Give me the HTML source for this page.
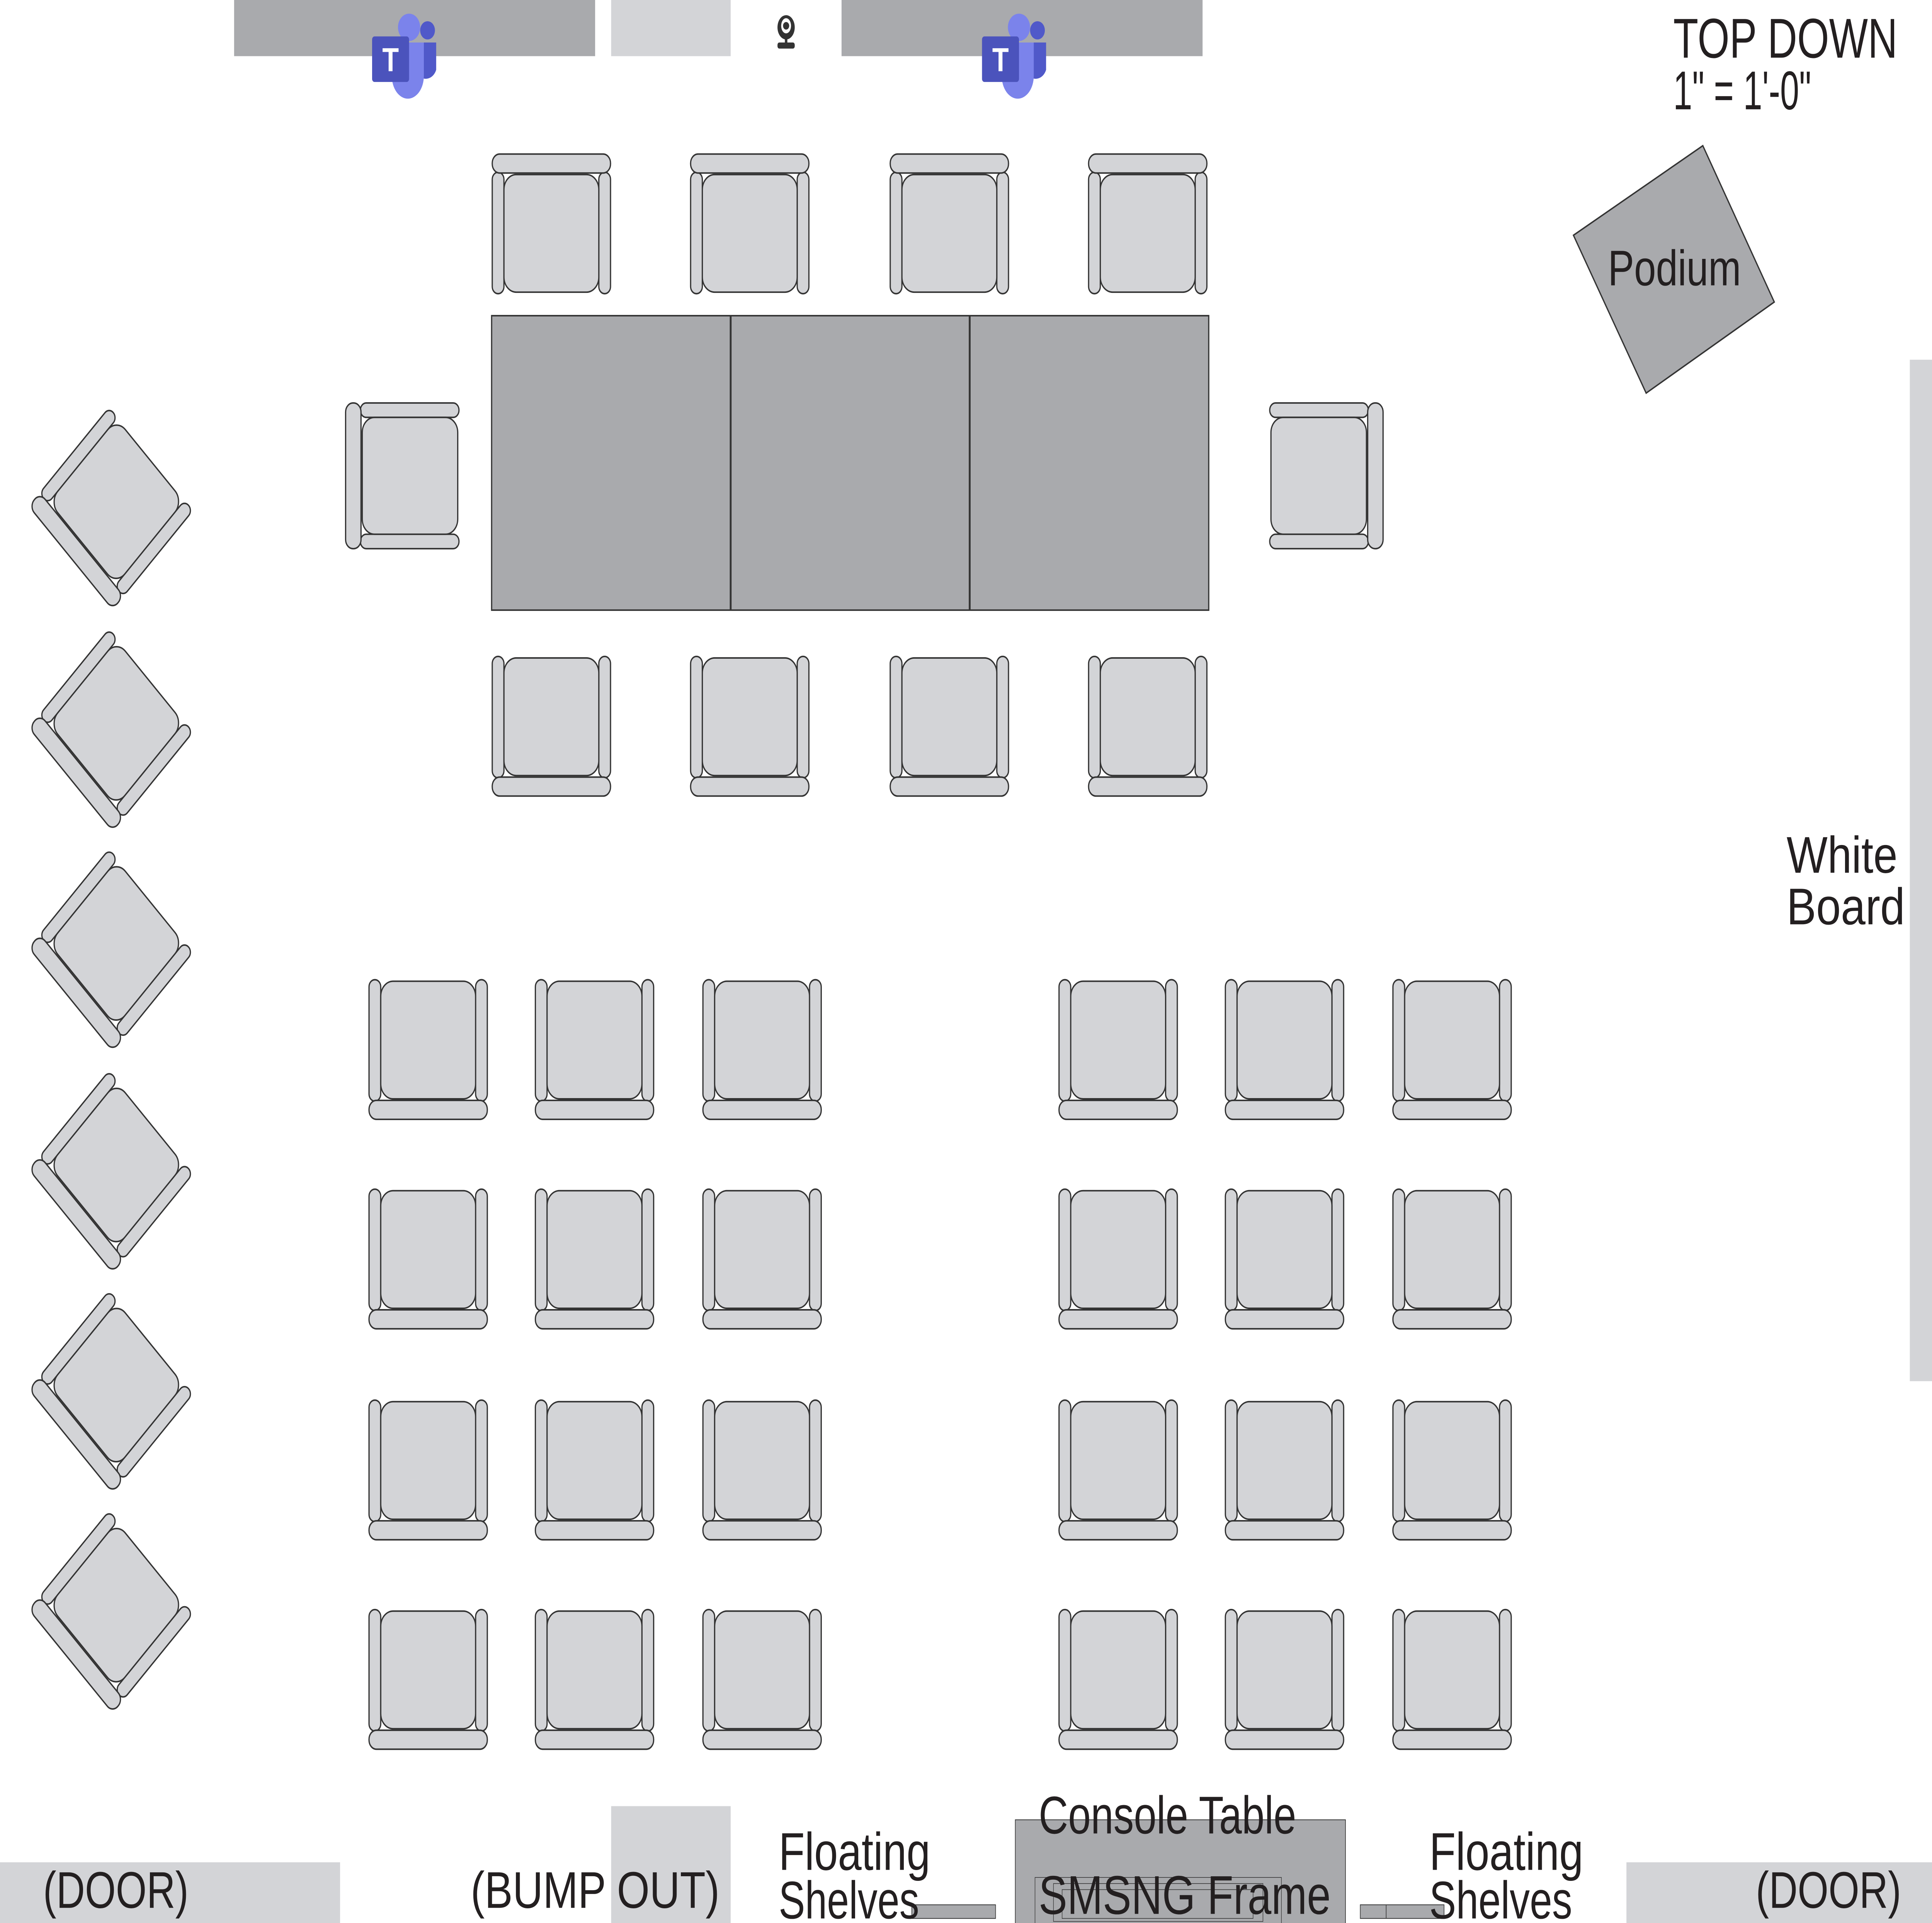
<!DOCTYPE html>
<html><head><meta charset="utf-8"><style>
html,body{margin:0;padding:0;background:#fff;width:100vw;height:100vh;overflow:hidden;}
svg{display:block;width:100vw;height:100vh;}
text{font-family:"Liberation Sans",sans-serif;fill:#231f20;}
</style></head><body>
<svg viewBox="0 0 1568 1267" preserveAspectRatio="none" xmlns="http://www.w3.org/2000/svg">
<defs>
<g id="c" fill="#d3d4d7" stroke="#333" stroke-width="1">
<rect x="0.5" y="0.5" width="9.5" height="80" rx="4.7"/>
<rect x="87" y="0.5" width="9.5" height="80" rx="4.7"/>
<rect x="10" y="1.5" width="77" height="77.5" rx="10"/>
<rect x="0.5" y="80" width="96" height="12.5" rx="6"/>
</g>
<g id="teams">
<circle cx="10" cy="-10" r="9" fill="#7b83eb"/>
<circle cx="25" cy="-8" r="6" fill="#5059c9"/>
<path d="M18 0 h14 v18 a9 9 0 0 1 -14 4z" fill="#5059c9"/>
<path d="M-4 0 h26 v22 a13 15 0 0 1 -26 0z" fill="#7b83eb"/>
<rect x="-20" y="-4" width="30" height="30" rx="2" fill="#4b53bc"/>
<text x="-5" y="19" text-anchor="middle" style="font-size:22px;font-weight:bold;fill:#fff">T</text>
</g>
</defs>

<rect x="190" y="0" width="293" height="37" fill="#a9aaad"/>
<rect x="496" y="0" width="97" height="37" fill="#d3d4d7"/>
<rect x="683" y="0" width="293" height="37" fill="#a9aaad"/>
<use href="#teams" transform="translate(322,28)"/>
<use href="#teams" transform="translate(817,28)"/>
<g fill="#333">
<ellipse cx="638" cy="18" rx="7" ry="8"/>
<ellipse cx="638" cy="17" rx="4" ry="5" fill="#fff"/>
<circle cx="638" cy="17" r="2.5"/>
<rect x="637" y="25" width="2" height="4"/>
<rect x="631" y="28" width="14" height="4" rx="1.5"/>
</g>

<rect x="399" y="208" width="582" height="194" fill="#a9aaad" stroke="#333" stroke-width="1"/>
<line x1="593" y1="208" x2="593" y2="402" stroke="#333" stroke-width="1.5"/>
<line x1="787" y1="208" x2="787" y2="402" stroke="#333" stroke-width="1.5"/>

<use href="#c" transform="translate(399,194) scale(1,-1)"/>
<use href="#c" transform="translate(560,194) scale(1,-1)"/>
<use href="#c" transform="translate(722,194) scale(1,-1)"/>
<use href="#c" transform="translate(883,194) scale(1,-1)"/>
<use href="#c" transform="translate(399,432)"/>
<use href="#c" transform="translate(560,432)"/>
<use href="#c" transform="translate(722,432)"/>
<use href="#c" transform="translate(883,432)"/>
<use href="#c" transform="translate(373,265) rotate(90)"/>
<use href="#c" transform="translate(1030,362) rotate(-90)"/>

<g>
<use href="#c" transform="translate(299,645)"/><use href="#c" transform="translate(434,645)"/><use href="#c" transform="translate(570,645)"/>
<use href="#c" transform="translate(859,645)"/><use href="#c" transform="translate(994,645)"/><use href="#c" transform="translate(1130,645)"/>
<use href="#c" transform="translate(299,783)"/><use href="#c" transform="translate(434,783)"/><use href="#c" transform="translate(570,783)"/>
<use href="#c" transform="translate(859,783)"/><use href="#c" transform="translate(994,783)"/><use href="#c" transform="translate(1130,783)"/>
<use href="#c" transform="translate(299,922)"/><use href="#c" transform="translate(434,922)"/><use href="#c" transform="translate(570,922)"/>
<use href="#c" transform="translate(859,922)"/><use href="#c" transform="translate(994,922)"/><use href="#c" transform="translate(1130,922)"/>
<use href="#c" transform="translate(299,1060)"/><use href="#c" transform="translate(434,1060)"/><use href="#c" transform="translate(570,1060)"/>
<use href="#c" transform="translate(859,1060)"/><use href="#c" transform="translate(994,1060)"/><use href="#c" transform="translate(1130,1060)"/>
</g>

<use href="#c" transform="translate(90,335) rotate(45) translate(-48.5,-46.5)"/>
<use href="#c" transform="translate(90,481) rotate(45) translate(-48.5,-46.5)"/>
<use href="#c" transform="translate(90,626) rotate(45) translate(-48.5,-46.5)"/>
<use href="#c" transform="translate(90,772) rotate(45) translate(-48.5,-46.5)"/>
<use href="#c" transform="translate(90,917) rotate(45) translate(-48.5,-46.5)"/>
<use href="#c" transform="translate(90,1062) rotate(45) translate(-48.5,-46.5)"/>

<polygon points="1277,155 1382,96 1440,199 1336,259" fill="#a9aaad" stroke="#333" stroke-width="1"/>
<text x="1305" y="188" textLength="108" lengthAdjust="spacingAndGlyphs" style="font-size:33px">Podium</text>

<text x="1358" y="38" textLength="182" lengthAdjust="spacingAndGlyphs" style="font-size:37px">TOP DOWN</text>
<text x="1358" y="72" textLength="112" lengthAdjust="spacingAndGlyphs" style="font-size:36px">1" = 1'-0"</text>

<rect x="1550" y="237" width="18" height="673" fill="#d3d4d7"/>
<text x="1450" y="575" textLength="90" lengthAdjust="spacingAndGlyphs" style="font-size:34px">White</text>
<text x="1450" y="609" textLength="96" lengthAdjust="spacingAndGlyphs" style="font-size:34px">Board</text>

<rect x="0" y="1227" width="276" height="40" fill="#d3d4d7"/>
<text x="35" y="1257" textLength="118" lengthAdjust="spacingAndGlyphs" style="font-size:34px">(DOOR)</text>
<rect x="496" y="1190" width="97" height="77" fill="#d3d4d7"/>
<text x="382" y="1257" textLength="202" lengthAdjust="spacingAndGlyphs" style="font-size:34px">(BUMP OUT)</text>

<rect x="740" y="1255" width="68" height="9" fill="#a9aaad" stroke="#333" stroke-width="0.5"/>
<text x="632" y="1232" textLength="123" lengthAdjust="spacingAndGlyphs" style="font-size:35px">Floating</text>
<text x="632" y="1264" textLength="114" lengthAdjust="spacingAndGlyphs" style="font-size:35px">Shelves</text>

<rect x="824" y="1199" width="268" height="70" fill="#a9aaad" stroke="#333" stroke-width="0.5"/>
<rect x="840" y="1237" width="200" height="31" fill="none" stroke="#333" stroke-width="0.4"/>
<rect x="855" y="1241" width="170" height="25" fill="none" stroke="#333" stroke-width="0.4"/>
<rect x="862" y="1245" width="155" height="19" fill="none" stroke="#333" stroke-width="0.4"/>
<text x="843" y="1208" textLength="209" lengthAdjust="spacingAndGlyphs" style="font-size:35px">Console Table</text>
<text x="843" y="1261" textLength="237" lengthAdjust="spacingAndGlyphs" style="font-size:36px">SMSNG Frame</text>

<rect x="1104" y="1255" width="68" height="9" fill="#a9aaad" stroke="#333" stroke-width="0.5"/>
<line x1="1125" y1="1255" x2="1125" y2="1264" stroke="#333" stroke-width="0.5"/>
<text x="1160" y="1232" textLength="125" lengthAdjust="spacingAndGlyphs" style="font-size:35px">Floating</text>
<text x="1160" y="1264" textLength="116" lengthAdjust="spacingAndGlyphs" style="font-size:35px">Shelves</text>

<rect x="1320" y="1227" width="248" height="40" fill="#d3d4d7"/>
<text x="1425" y="1257" textLength="118" lengthAdjust="spacingAndGlyphs" style="font-size:34px">(DOOR)</text>
</svg>
</body></html>
